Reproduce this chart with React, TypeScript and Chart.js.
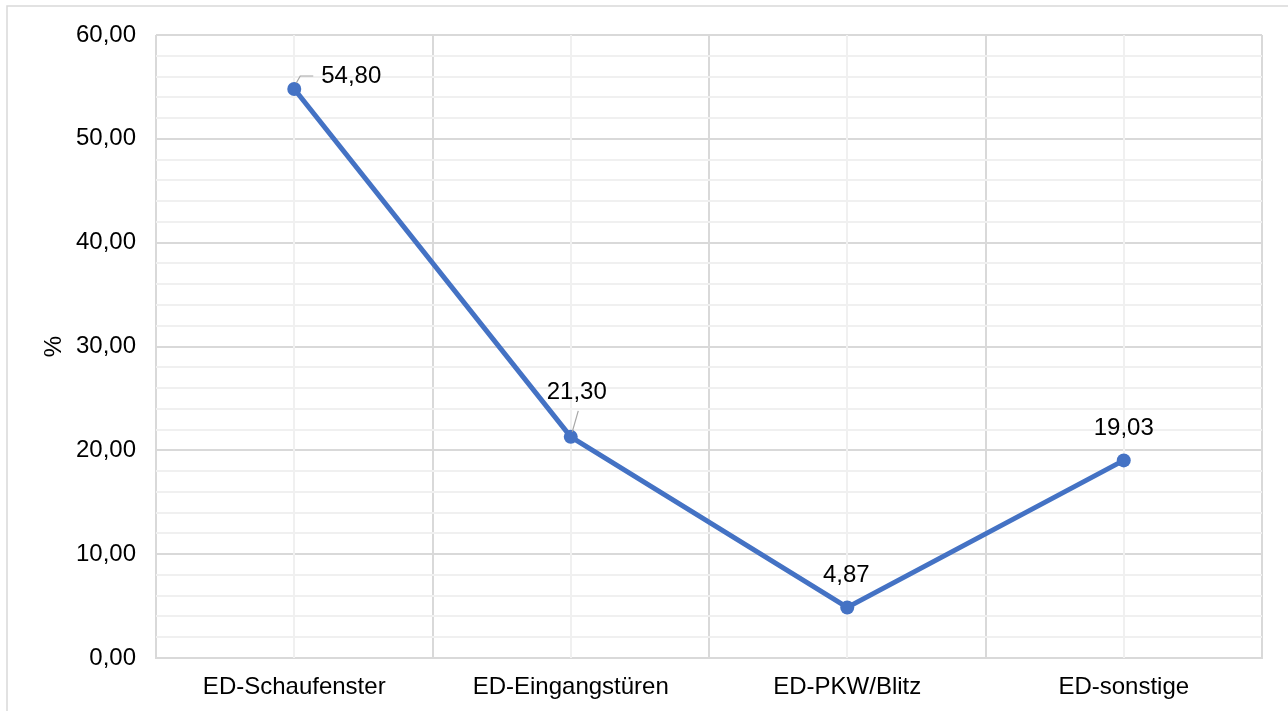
import React, { useEffect, useRef } from "react";
import { Chart, registerables } from "chart.js";

Chart.register(...registerables);

const categories = ["ED-Schaufenster", "ED-Eingangstüren", "ED-PKW/Blitz", "ED-sonstige"];
const values = [54.8, 21.3, 4.87, 19.03];
const yMin = 0;
const yMax = 60;
const yMinorStep = 2;
const yMajorStep = 10;
const yTitle = "%";

// label placement relative to point (dx, dy of text centre) and leader lines
const labelLayout = [
  { dx: 27, dy: -13, align: "left" as CanvasTextAlign, leader: [[2, -6], [6, -13], [19, -13]] },
  { dx: 6, dy: -44, align: "center" as CanvasTextAlign, leader: [[7.5, -26], [1.5, -5]] },
  { dx: -1, dy: -32, align: "center" as CanvasTextAlign, leader: null },
  { dx: 0, dy: -32, align: "center" as CanvasTextAlign, leader: null },
];

const FONT = "'Liberation Sans', Arial, sans-serif";
const FS = 24;
const fmt = (v: number) => v.toFixed(2).replace(".", ",");

const extrasPlugin = {
  id: "extras",
  beforeDraw(chart: any) {
    const ctx = chart.ctx;
    ctx.save();
    ctx.fillStyle = "#ffffff";
    ctx.fillRect(0, 0, chart.width, chart.height);
    ctx.strokeStyle = "#d9d9d9";
    ctx.lineWidth = 1.5;
    ctx.strokeRect(7, 6, chart.width + 10, chart.height + 10);
    ctx.restore();
  },
  beforeDatasetsDraw(chart: any) {
    const ctx = chart.ctx;
    const xs = chart.scales.x;
    const area = chart.chartArea;
    ctx.save();
    ctx.strokeStyle = "#f0f0f0";
    ctx.lineWidth = 2;
    categories.forEach((_, i) => {
      const x = Math.round(xs.getPixelForValue(i));
      ctx.beginPath();
      ctx.moveTo(x, area.top);
      ctx.lineTo(x, area.bottom);
      ctx.stroke();
    });
    ctx.restore();
  },
  afterDatasetsDraw(chart: any) {
    const ctx = chart.ctx;
    const meta = chart.getDatasetMeta(0);
    ctx.save();
    ctx.font = `${FS}px ${FONT}`;
    ctx.fillStyle = "#000000";
    ctx.textBaseline = "middle";
    meta.data.forEach((pt: any, i: number) => {
      const l = labelLayout[i];
      if (l.leader) {
        ctx.strokeStyle = "#a6a6a6";
        ctx.lineWidth = 1.2;
        ctx.beginPath();
        l.leader.forEach(([dx, dy], k) => {
          if (k === 0) ctx.moveTo(pt.x + dx, pt.y + dy);
          else ctx.lineTo(pt.x + dx, pt.y + dy);
        });
        ctx.stroke();
      }
      ctx.textAlign = l.align;
      ctx.fillText(fmt(values[i]), pt.x + l.dx, pt.y + l.dy);
    });
    ctx.restore();
  },
};

export default function App() {
  const ref = useRef<HTMLCanvasElement>(null);
  useEffect(() => {
    document.body.style.margin = "0";
    const chart = new Chart(ref.current!, {
      type: "line",
      data: {
        labels: categories,
        datasets: [
          {
            data: values,
            borderColor: "#4472C4",
            backgroundColor: "#4472C4",
            borderWidth: 5,
            pointRadius: 7,
            pointBorderWidth: 0,
            pointBackgroundColor: "#4472C4",
            tension: 0,
          },
        ],
      },
      options: {
        responsive: false,
        animation: false,
        layout: { padding: { left: 40, top: 35, right: 26, bottom: 0 } },
        plugins: { legend: { display: false }, tooltip: { enabled: false } },
        scales: {
          x: {
            offset: true,
            grid: { offset: true, color: "#d9d9d9", lineWidth: 2, drawTicks: false },
            border: { display: true, color: "#d9d9d9", width: 2 },
            ticks: { padding: 15, color: "#000000", font: { family: FONT, size: FS }, autoSkip: false, maxRotation: 0 },
            afterFit(scale: any) {
              scale.height = 711 - 658;
            },
          },
          y: {
            min: yMin,
            max: yMax,
            ticks: {
              stepSize: yMinorStep,
              autoSkip: false,
              padding: 20,
              color: "#000000",
              font: { family: FONT, size: FS },
              callback: (v: any) => (Number(v) % yMajorStep === 0 ? fmt(Number(v)) : ""),
            },
            grid: {
              drawTicks: false,
              color: (c: any) => (c.tick && c.tick.value % yMajorStep === 0 ? "#d9d9d9" : "#f0f0f0"),
              lineWidth: 2,
            },
            border: { display: false },
            title: {
              display: true,
              text: yTitle,
              color: "#000000",
              font: { family: FONT, size: FS },
              padding: { top: 0, bottom: 0 },
            },
            afterFit(scale: any) {
              scale.width = 156 - 40;
            },
          },
        },
      },
      plugins: [extrasPlugin],
    });
    return () => chart.destroy();
  }, []);
  return <canvas ref={ref} width={1288} height={711} style={{ display: "block" }} />;
}
